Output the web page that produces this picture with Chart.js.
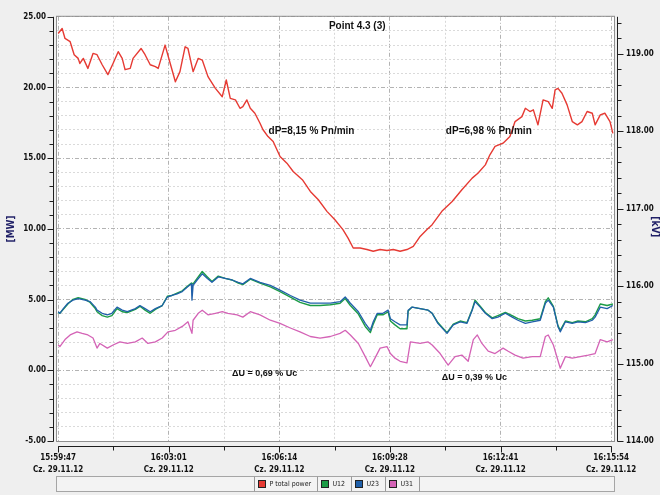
<!DOCTYPE html>
<html>
<head>
<meta charset="utf-8">
<script src="https://cdn.jsdelivr.net/npm/chart.js@4/dist/chart.umd.min.js"></script>
<style>
  html, body { margin: 0; padding: 0; background: #efefef; }
  #wrap { width: 660px; height: 495px; position: relative; }
</style>
</head>
<body>
<div id="wrap"><canvas id="c" width="660" height="495"></canvas></div>
<script>
// ---- time axis labels ----
const timeLabels = ['15:59:47', '16:03:01', '16:06:14', '16:09:28', '16:12:41', '16:15:54'];
const dateLabel = 'Cz. 29.11.12';
const seriesNames = ['P total power', 'U12', 'U23', 'U31'];

// ---- P total power [MW], time in seconds from 15:59:47 ----
const powerTime = [0,7,12,21,28,35,38,44,52,61, 68,77,87,96,105,112,117,126,131,145,
  152,161,170,175,187,196,205,213,222,227, 236,245,252,262,275,287,294,301,310,318,
  323,330,336,344,353,358,367,376,388,400, 411,427,441,455,470,484,498,507,516,528,
  540,551,563,575,586,598,610,621,633,645, 654,671,689,706,724,734,747,755,764,778,
  790,799,811,817,825,831,839,848,857,864, 869,874,881,890,899,908,916,925,934,939,
  948,956,965,970];
const powerMW = [23.82,24.17,23.47,23.24,22.32,22.06,21.70,22.06,21.35,22.41,
  22.32,21.61,20.91,21.70,22.53,22.06,21.26,21.35,22.06,22.76,
  22.32,21.61,21.47,21.35,23.00,21.70,20.41,21.12,22.88,22.76,
  21.12,22.06,21.94,20.77,19.94,19.35,20.53,19.23,19.12,18.53,
  18.65,19.12,18.53,18.18,17.47,17.03,16.53,16.18,15.12,14.65,
  14.06,13.48,12.65,12.06,11.24,10.65,9.95,9.35,8.65,8.65,
  8.54,8.42,8.54,8.47,8.54,8.42,8.54,8.77,9.47,9.95,
  10.30,11.24,11.94,12.77,13.59,13.94,14.53,15.24,15.83,16.06,
  16.53,17.59,17.94,18.53,18.30,18.42,17.36,19.12,19.00,18.53,
  19.83,19.94,19.59,18.77,17.59,17.36,17.59,18.30,18.18,17.36,
  18.06,18.18,17.59,16.76];

// ---- line voltages U12 / U23 [kV] ----
const voltTime = [0,3,9,17,26,35,47,56,65,68, 77,86,94,103,112,121,135,143,152,161,
  170,182,191,199,208,217,226,233,234,236, 243,252,261,269,280,292,304,315,323,336,
  353,371,388,406,423,441,458,476,493,502, 511,525,537,546,551,558,568,577,581,589,
  598,610,612,619,633,647,654,664,680,691, 703,715,724,729,738,747,759,769,782,794,
  804,817,829,843,852,857,866,874,878,887, 899,909,922,934,939,948,960,970];
const u23kV = [115.67,115.65,115.71,115.78,115.82,115.84,115.82,115.80,115.73,115.69,
  115.65,115.63,115.65,115.73,115.69,115.67,115.71,115.75,115.71,115.67,
  115.71,115.75,115.86,115.88,115.90,115.93,115.99,116.03,115.82,116.01,
  116.08,116.16,116.10,116.05,116.12,116.10,116.08,116.05,116.03,116.10,
  116.05,116.01,115.95,115.88,115.82,115.78,115.78,115.78,115.80,115.86,
  115.78,115.67,115.52,115.43,115.54,115.65,115.65,115.69,115.58,115.54,
  115.50,115.50,115.69,115.73,115.71,115.69,115.65,115.52,115.39,115.50,
  115.54,115.52,115.69,115.80,115.73,115.65,115.58,115.60,115.65,115.60,
  115.56,115.52,115.54,115.56,115.78,115.82,115.73,115.48,115.41,115.54,
  115.52,115.54,115.53,115.56,115.60,115.73,115.71,115.75];
const u12kV = [115.66,115.65,115.70,115.77,115.83,115.85,115.83,115.79,115.71,115.67,
  115.62,115.60,115.62,115.71,115.67,115.66,115.70,115.74,115.69,115.65,
  115.70,115.75,115.87,115.88,115.91,115.94,116.00,116.04,116.03,116.03,
  116.10,116.19,116.12,116.06,116.13,116.10,116.08,116.04,116.02,116.09,
  116.04,115.99,115.93,115.86,115.79,115.75,115.75,115.76,115.78,115.84,
  115.75,115.64,115.48,115.40,115.51,115.63,115.63,115.67,115.55,115.50,
  115.45,115.45,115.68,115.73,115.71,115.69,115.65,115.53,115.40,115.51,
  115.55,115.53,115.70,115.82,115.74,115.66,115.59,115.62,115.66,115.62,
  115.58,115.55,115.56,115.58,115.80,115.85,115.74,115.49,115.43,115.55,
  115.53,115.55,115.54,115.58,115.63,115.77,115.75,115.77];

// ---- line voltage U31 [kV] ----
const u31Time = [0,3,12,21,33,42,52,61,68,73, 86,96,108,121,135,147,157,170,182,192,
  205,217,227,234,236,245,252,262,275,287, 297,313,323,336,353,371,388,406,423,441,
  458,476,493,502,511,525,537,546,554,563, 575,581,589,598,610,616,633,647,654,668,
  682,694,706,717,726,733,741,752,764,778, 787,799,813,829,843,852,857,866,878,887,
  899,913,927,939,948,960,970];
const u31kV = [115.24,115.22,115.31,115.37,115.41,115.39,115.37,115.33,115.20,115.26,
  115.20,115.24,115.28,115.26,115.28,115.33,115.26,115.28,115.33,115.41,
  115.43,115.48,115.54,115.39,115.56,115.65,115.69,115.63,115.65,115.67,
  115.65,115.63,115.60,115.67,115.63,115.56,115.52,115.46,115.41,115.35,
  115.33,115.35,115.39,115.43,115.37,115.26,115.09,114.96,115.07,115.20,
  115.22,115.13,115.07,115.03,115.01,115.28,115.26,115.28,115.24,115.13,
  114.98,115.09,115.11,115.03,115.31,115.37,115.26,115.16,115.13,115.20,
  115.16,115.11,115.07,115.09,115.09,115.35,115.37,115.24,114.94,115.09,
  115.07,115.09,115.11,115.13,115.31,115.28,115.31];

// ---- helpers ----
const toSec = s => { const p = s.split(':').map(Number); return p[0] * 3600 + p[1] * 60 + p[2]; };
const span = toSec(timeLabels[timeLabels.length - 1]) - toSec(timeLabels[0]);
const nSub = 2 * (timeLabels.length - 1);
const pts = (xs, ys) => xs.map((x, i) => ({ x: x, y: ys[i] }));

const AXIS_FONT = "'DejaVu Sans Condensed', 'DejaVu Sans', sans-serif";
const NOTE_FONT = "'Liberation Sans', Arial, sans-serif";

const notes = [
  { text: 'Point 4.3 (3)', x: 523, y: 24.36, size: 10, align: 'center' },
  { text: 'dP=8,15 % Pn/min', x: 368, y: 16.88, size: 10, align: 'left' },
  { text: 'dP=6,98 % Pn/min', x: 678, y: 16.88, size: 10, align: 'left' },
  { text: '\u0394U = 0,69 % Uc', x: 304, y: -0.23, size: 9, align: 'left' },
  { text: '\u0394U = 0,39 % Uc', x: 671, y: -0.52, size: 9, align: 'left' }
];

// white plot background
const plotBg = {
  id: 'plotBg',
  beforeDraw(chart) {
    const { ctx, chartArea: a } = chart;
    ctx.save();
    ctx.fillStyle = '#ffffff';
    ctx.fillRect(a.left, a.top, a.right - a.left, a.bottom - a.top);
    ctx.restore();
  }
};

// frame, offset axis lines with major/minor tick marks, axis units
const axisDecor = {
  id: 'axisDecor',
  afterDraw(chart) {
    const { ctx, chartArea: a, scales } = chart;
    const line = (x1, y1, x2, y2) => { ctx.beginPath(); ctx.moveTo(x1, y1); ctx.lineTo(x2, y2); ctx.stroke(); };
    ctx.save();
    ctx.lineWidth = 1;
    ctx.strokeStyle = '#8f8f8f';
    ctx.strokeRect(a.left - 0.5, a.top - 0.5, a.right - a.left + 1, a.bottom - a.top + 1);

    ctx.strokeStyle = '#1e1e1e';
    // left axis
    const lx = Math.round(a.left) - 3.5;
    const ys = scales.y;
    line(lx, ys.getPixelForValue(ys.max), lx, ys.getPixelForValue(ys.min) + 0.5);
    ys.ticks.forEach(tk => {
      const p = Math.round(ys.getPixelForValue(tk.value)) + 0.5;
      line(lx - (tk.value % 5 === 0 ? 6 : 4), p, lx, p);
    });
    // right axis
    const rx = Math.round(a.right) + 3.5;
    const y1 = scales.y1;
    line(rx, y1.getPixelForValue(y1.max), rx, y1.getPixelForValue(y1.min) + 0.5);
    y1.ticks.forEach(tk => {
      const p = Math.round(y1.getPixelForValue(tk.value)) + 0.5;
      const major = Math.abs(tk.value - Math.round(tk.value)) < 1e-6;
      line(rx, p, rx + (major ? 6 : 4), p);
    });
    // bottom axis
    const by = Math.round(a.bottom) + 5.5;
    const xs = scales.x;
    line(xs.getPixelForValue(0), by, xs.getPixelForValue(span) + 0.5, by);
    xs.ticks.forEach((tk, i) => {
      const p = Math.round(xs.getPixelForValue(tk.value)) + 0.5;
      line(p, by, p, by + (i % 2 === 0 ? 6 : 4));
    });

    // axis unit titles
    ctx.fillStyle = '#1f1f66';
    ctx.font = 'bold 10px ' + AXIS_FONT;
    ctx.textAlign = 'center';
    ctx.textBaseline = 'middle';
    const midY = (a.top + a.bottom) / 2;
    ctx.save(); ctx.translate(11, midY); ctx.rotate(-Math.PI / 2); ctx.fillText('[MW]', 0, 0); ctx.restore();
    ctx.save(); ctx.translate(655, midY - 2); ctx.rotate(Math.PI / 2); ctx.fillText('[kV]', 0, 0); ctx.restore();
    ctx.restore();
  }
};

// chart title and value notes
const noteLayer = {
  id: 'noteLayer',
  afterDatasetsDraw(chart) {
    const { ctx, scales } = chart;
    ctx.save();
    ctx.fillStyle = '#111111';
    ctx.textBaseline = 'middle';
    notes.forEach(n => {
      ctx.font = 'bold ' + n.size + 'px ' + NOTE_FONT;
      ctx.textAlign = n.align;
      ctx.fillText(n.text, scales.x.getPixelForValue(n.x), scales.y.getPixelForValue(n.y));
    });
    ctx.restore();
  }
};

// legend strip under the time axis
const legendStrip = {
  id: 'legendStrip',
  afterDraw(chart) {
    const { ctx, chartArea: a } = chart;
    const top = 476.5, h = 15, left = a.left - 0.5, right = a.right + 0.5;
    ctx.save();
    ctx.fillStyle = '#f3f3f3';
    ctx.fillRect(left, top, right - left, h);
    ctx.strokeStyle = '#a5a5a5';
    ctx.lineWidth = 1;
    ctx.strokeRect(left, top, right - left, h);
    ctx.font = '7px ' + AXIS_FONT;
    const items = seriesNames.map(name => chart.data.datasets.find(d => d.label === name));
    const widths = items.map(d => 4 + 7 + 4 + ctx.measureText(d.label).width + 6);
    const total = widths.reduce((s, w) => s + w, 0);
    let x = Math.round((left + right) / 2 - total / 2) + 0.5;
    items.forEach((d, k) => {
      ctx.strokeStyle = '#9a9a9a';
      ctx.beginPath(); ctx.moveTo(x, top); ctx.lineTo(x, top + h); ctx.stroke();
      ctx.fillStyle = d.borderColor;
      ctx.fillRect(x + 4, top + 4, 7, 7);
      ctx.strokeStyle = '#222';
      ctx.strokeRect(x + 4, top + 4, 7, 7);
      ctx.fillStyle = '#1a1a1a';
      ctx.textAlign = 'left';
      ctx.textBaseline = 'middle';
      ctx.fillText(d.label, x + 15, top + h / 2 + 0.5);
      x += Math.round(widths[k]);
    });
    ctx.strokeStyle = '#9a9a9a';
    ctx.beginPath(); ctx.moveTo(x, top); ctx.lineTo(x, top + h); ctx.stroke();
    ctx.restore();
  }
};

const majorDash = [4, 2, 1, 2];
const minorDash = [2, 2];

new Chart(document.getElementById('c'), {
  type: 'line',
  data: {
    datasets: [
      { label: seriesNames[0], data: pts(powerTime, powerMW), yAxisID: 'y', borderColor: '#e63a33', borderWidth: 1.4, order: 0 },
      { label: seriesNames[1], data: pts(voltTime, u12kV), yAxisID: 'y1', borderColor: '#1c9c46', borderWidth: 1.4, order: 2 },
      { label: seriesNames[2], data: pts(voltTime, u23kV), yAxisID: 'y1', borderColor: '#2060aa', borderWidth: 1.3, order: 1 },
      { label: seriesNames[3], data: pts(u31Time, u31kV), yAxisID: 'y1', borderColor: '#d463b6', borderWidth: 1.3, order: 3 }
    ]
  },
  options: {
    responsive: false,
    devicePixelRatio: 1,
    animation: false,
    events: [],
    elements: { point: { radius: 0 }, line: { tension: 0, borderJoinStyle: 'round' } },
    layout: { padding: { top: 15, left: 0, right: 0, bottom: 0 } },
    plugins: { legend: { display: false }, tooltip: { enabled: false }, title: { display: false } },
    scales: {
      x: {
        type: 'linear',
        min: -2,
        max: 972,
        afterBuildTicks: s => { s.ticks = Array.from({ length: nSub + 1 }, (_, i) => ({ value: i * span / nSub })); },
        afterFit: s => { s.height = 54; },
        ticks: {
          autoSkip: false, maxRotation: 0, padding: 11, color: '#111',
          font: { family: AXIS_FONT, size: 8, weight: 'bold', lineHeight: 1.5 },
          callback: (v, i) => (i % 2 === 0 ? [timeLabels[i / 2], dateLabel] : '')
        },
        grid: { drawTicks: false, lineWidth: 1, color: c => (c.index % 2 === 0 ? '#b3b3b3' : '#d8d8d8') },
        border: { display: false, dash: c => (c.type === 'tick' ? (c.index % 2 === 0 ? majorDash : minorDash) : []) }
      },
      y: {
        position: 'left',
        min: -5,
        max: 25,
        afterBuildTicks: s => { const t = []; for (let v = -5; v <= 25; v++) t.push({ value: v }); s.ticks = t; },
        afterFit: s => { s.width = 57; },
        ticks: {
          autoSkip: false, padding: 11, color: '#111',
          font: { family: AXIS_FONT, size: 8, weight: 'bold' },
          callback: v => (v % 5 === 0 ? v.toFixed(2) : '')
        },
        grid: { drawTicks: false, lineWidth: 1, color: c => (c.tick && c.tick.value % 5 === 0 ? '#b3b3b3' : '#dadada') },
        border: { display: false, dash: c => (c.type === 'tick' ? (c.tick.value % 5 === 0 ? majorDash : minorDash) : []) }
      },
      y1: {
        position: 'right',
        min: 114,
        max: 119.48,
        afterBuildTicks: s => { const t = []; for (let i = 0; i <= 27; i++) t.push({ value: 114 + i / 5 }); s.ticks = t; },
        afterFit: s => { s.width = 46; },
        ticks: {
          autoSkip: false, padding: 12, color: '#111',
          font: { family: AXIS_FONT, size: 8, weight: 'bold' },
          callback: v => (Math.abs(v - Math.round(v)) < 1e-6 ? v.toFixed(2) : '')
        },
        grid: { drawTicks: false, drawOnChartArea: false },
        border: { display: false }
      }
    }
  },
  plugins: [plotBg, noteLayer, axisDecor, legendStrip]
});
</script>
</body>
</html>
